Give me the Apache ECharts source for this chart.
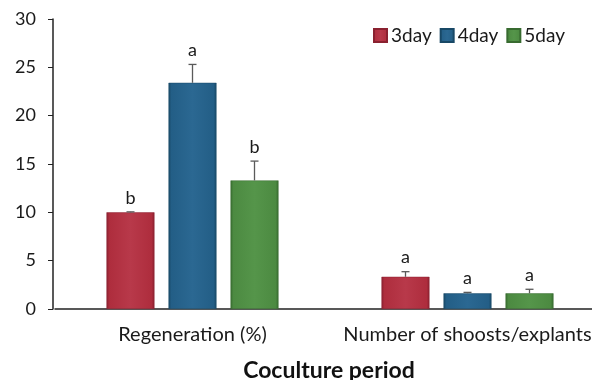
<!DOCTYPE html>
<html>
<head>
<meta charset="utf-8">
<script src="https://cdn.jsdelivr.net/npm/echarts@6/dist/echarts.min.js"></script>
<style>html,body{margin:0;padding:0;background:#fff;}#c{width:592px;height:380px;}</style>
</head>
<body>
<div id="c"></div>
<script>
var categories = ['Regeneration (%)', 'Number of shoosts/explants'];
var seriesNames = ['3day', '4day', '5day'];
var day3 = [10.0, 3.33];
var day4 = [23.4, 1.62];
var day5 = [13.3, 1.62];
var err3 = [0.05, 0.53];
var err4 = [1.9, 0.1];
var err5 = [2.0, 0.42];
var letters3 = ['b', 'a'];
var letters4 = ['a', 'a'];
var letters5 = ['b', 'a'];
var yTicks = [0, 5, 10, 15, 20, 25, 30];

var values = [day3, day4, day5];
var errs = [err3, err4, err5];
var letters = [letters3, letters4, letters5];
var colors = ['#AE2D3D', '#235E86', '#4C8A41'];
var darks = ['#8A2130', '#184866', '#386B30'];
var lights = ['#B8394A', '#2B6892', '#55954A'];
var BW = 48, GAP = 14;
var FONT = 'Lato';

var series = [];
seriesNames.forEach(function (name, i) {
  series.push({
    name: name,
    type: 'bar',
    barWidth: BW,
    barGap: (GAP / BW * 100).toFixed(1) + '%',
    data: values[i],
    itemStyle: {
      color: new echarts.graphic.LinearGradient(0, 0, 1, 0, [
        {offset: 0, color: darks[i]},
        {offset: 0.06, color: colors[i]},
        {offset: 0.5, color: lights[i]},
        {offset: 0.94, color: colors[i]},
        {offset: 1, color: darks[i]}
      ]),
      borderColor: darks[i],
      borderWidth: 0.5
    }
  });
});
seriesNames.forEach(function (name, i) {
  var data = categories.map(function (c, k) {
    return [k, values[i][k], errs[i][k], letters[i][k]];
  });
  series.push({
    name: name + '_err',
    type: 'custom',
    silent: true,
    z: 5,
    data: data,
    renderItem: function (params, api) {
      var k = api.value(0);
      var v = api.value(1);
      var e = api.value(2);
      var letter = data[params.dataIndex][3];
      var off = (i - 1) * (BW + GAP);
      var p0 = api.coord([k, v]);
      var p1 = api.coord([k, v + e]);
      var x = p0[0] + off;
      return {
        type: 'group',
        children: [
          {type: 'line', shape: {x1: x, y1: p0[1], x2: x, y2: p1[1]}, style: {stroke: '#5a5a5a', lineWidth: 1.3}},
          {type: 'line', shape: {x1: x - 4, y1: p1[1], x2: x + 4, y2: p1[1]}, style: {stroke: '#5a5a5a', lineWidth: 1.3}},
          {type: 'text', style: {text: letter, x: x, y: p1[1] - 5, textAlign: 'center', textVerticalAlign: 'bottom', fontSize: 18, fontFamily: FONT, fill: '#1a1a1a'}}
        ]
      };
    }
  });
});

var chart = echarts.init(document.getElementById('c'));
chart.setOption({
  animation: false,
  backgroundColor: '#fff',
  title: {
    text: 'Coculture period',
    left: 329, top: 359,
    padding: 0,
    textAlign: 'center',
    textStyle: {fontFamily: FONT, fontWeight: 'bold', fontSize: 23, color: '#111'}
  },
  legend: {
    data: seriesNames,
    left: 373, top: 26,
    padding: 0,
    itemWidth: 13, itemHeight: 13, itemGap: 8,
    icon: 'rect',
    textStyle: {fontFamily: FONT, fontSize: 19, color: '#1a1a1a', padding: [0, 0, 0, -1]}
  },
  grid: {left: 55, top: 19, width: 550, bottom: 71, containLabel: false, outerBoundsMode: 'none'},
  xAxis: {
    type: 'category',
    data: categories,
    axisLine: {lineStyle: {color: '#222', width: 1.5}},
    axisTick: {show: false},
    axisLabel: {fontFamily: FONT, fontSize: 20, color: '#1a1a1a', margin: 16, interval: 0}
  },
  yAxis: {
    type: 'value',
    offset: 2,
    min: yTicks[0], max: yTicks[yTicks.length - 1], interval: 5,
    splitLine: {show: false},
    axisLine: {show: true, lineStyle: {color: '#222', width: 1.5}},
    axisTick: {show: true, inside: false, length: 5, lineStyle: {color: '#222'}},
    axisLabel: {fontFamily: FONT, fontSize: 18, color: '#1a1a1a', margin: 17}
  },
  series: series
});
</script>
</body>
</html>
